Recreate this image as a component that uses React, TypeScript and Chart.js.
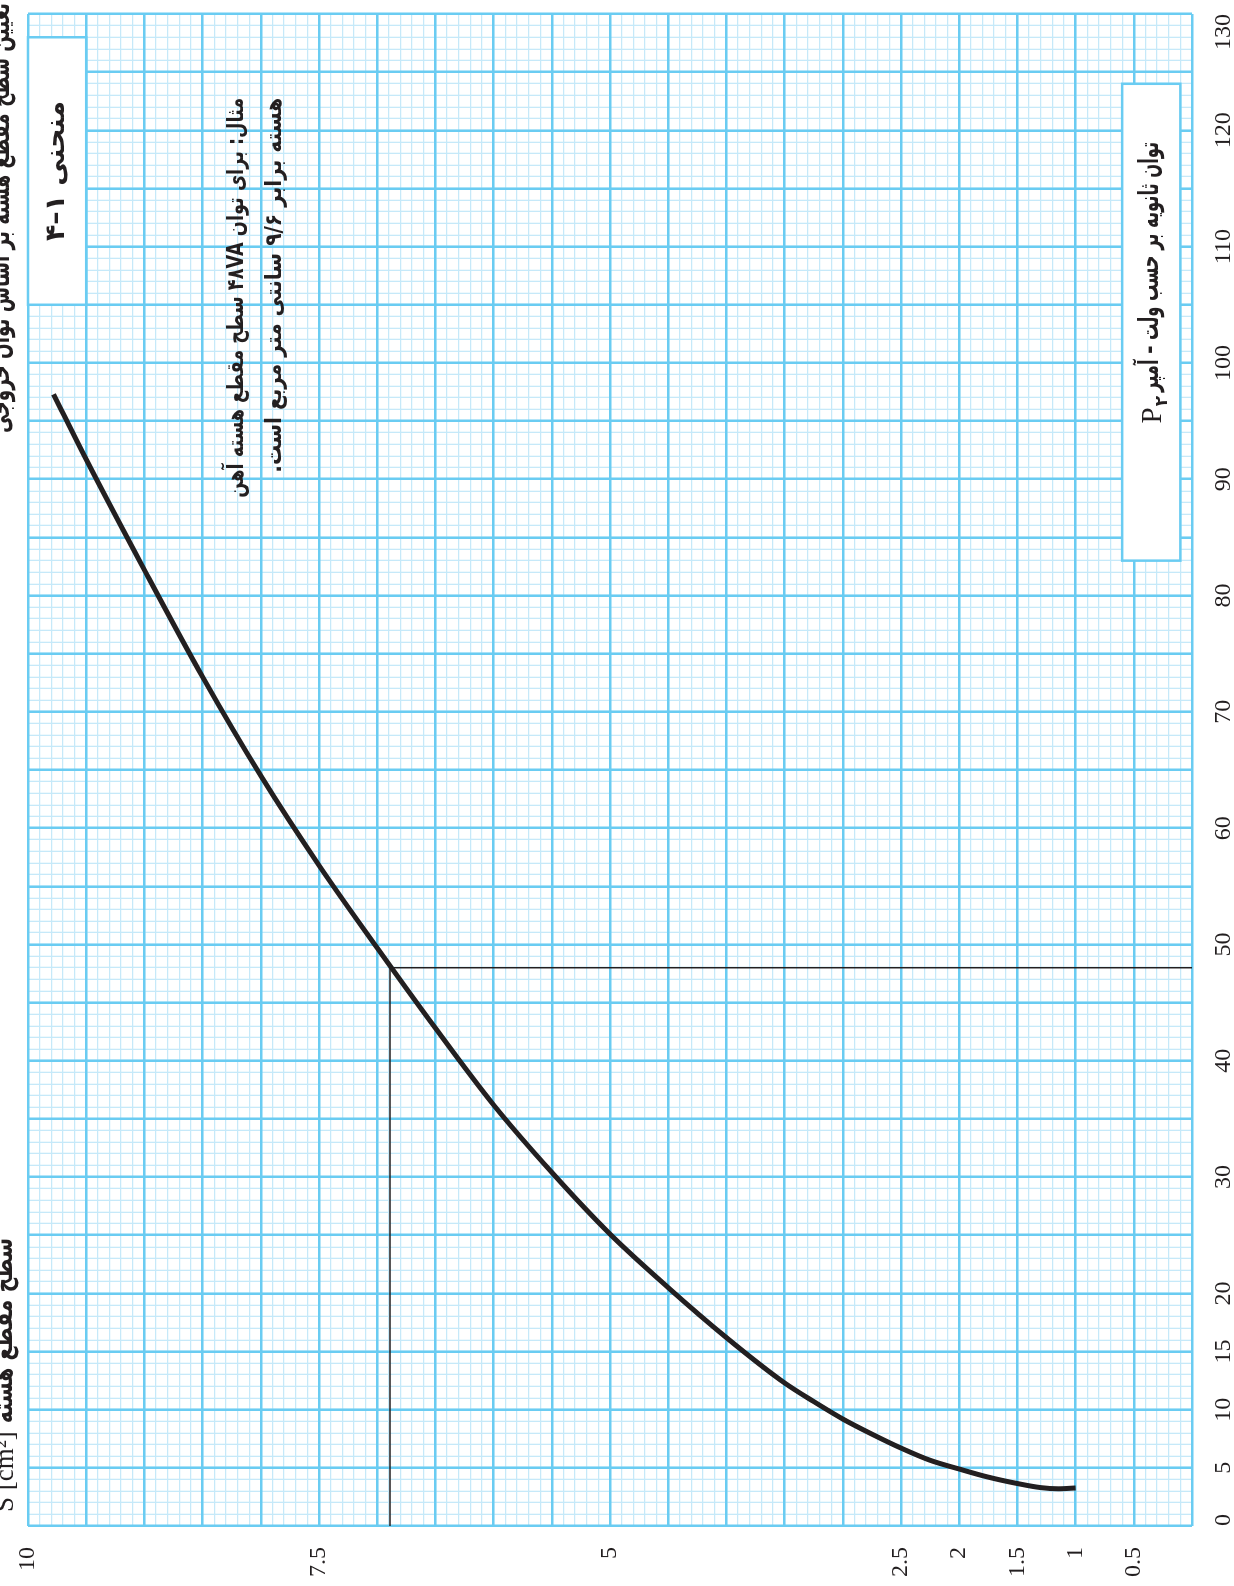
import React, { useEffect, useRef } from 'react';
import { Chart, registerables } from 'chart.js';

Chart.register(...registerables);

// ---------- data ----------
const P2_LABELS = [0, 5, 10, 15, 20, 30, 40, 50, 60, 70, 80, 90, 100, 110, 120, 130];
const S_LABELS = [0.5, 1, 1.5, 2, 2.5, 5, 7.5, 10];

// curve: secondary power P2 [VA] and core section S [cm²]
const CURVE_P2 = [3.27, 3.2, 3.3, 3.65, 4.2, 4.9, 5.65, 6.7, 7.9, 9.2, 10.7, 12.3, 16.2, 20.5, 25.1, 30.4, 36.2, 42.8, 49.7, 56.8, 64.5, 73.0, 82.2, 91.7, 97.3];
const CURVE_S = [1.0, 1.15, 1.3, 1.5, 1.75, 2.0, 2.25, 2.5, 2.75, 3.0, 3.25, 3.5, 4.0, 4.5, 5.0, 5.5, 6.0, 6.5, 7.0, 7.5, 8.0, 8.5, 9.0, 9.5, 9.78];

const EXAMPLE_P2 = 48;
const EXAMPLE_S = 6.89;

const TITLE = 'تعیین سطح مقطع هسته بر اساس توان خروجی';
const Y_TITLE_LATIN = 'S [cm²]';
const Y_TITLE_FA = 'سطح مقطع هسته';
const CURVE_NAME = 'منحنی ۱–۴';
const X_TITLE_FA = 'توان ثانویه بر حسب ولت – آمپر';
const X_TITLE_SYMBOL = 'P';
const X_TITLE_SUB = '۲';
const EXAMPLE_1 = 'مثال: برای توان ۴۸VA سطح مقطع هسته آهن';
const EXAMPLE_2 = 'هسته برابر ۹/۶ سانتی متر مربع است.';

// ---------- styles ----------
const MAJOR = '#6accf2';
const MINOR = '#c6e9f9';
const INK = '#231f20';
const FA_FONT = '"DejaVu Sans", sans-serif';
const SERIF = '"Liberation Serif", serif';

const hasLabel = (arr: number[], v: number) => arr.some((t) => Math.abs(t - v) < 1e-6);

// Persian text: given font size (height) and width; condensed to width if needed
function drawFa(
  ctx: CanvasRenderingContext2D,
  text: string,
  x: number,
  y: number,
  align: CanvasTextAlign,
  baseline: CanvasTextBaseline,
  size: number,
  width: number,
  weight = 'bold'
) {
  ctx.direction = 'rtl';
  ctx.font = `${weight} ${size}px ${FA_FONT}`;
  ctx.textAlign = align;
  ctx.textBaseline = baseline;
  ctx.fillStyle = INK;
  const natural = ctx.measureText(text).width;
  ctx.fillText(text, x, y, width);
  return Math.min(natural, width);
}

function drawBox(ctx: CanvasRenderingContext2D, x1: number, y1: number, x2: number, y2: number) {
  const l = Math.min(x1, x2), r = Math.max(x1, x2), t = Math.min(y1, y2), b = Math.max(y1, y2);
  ctx.fillStyle = '#ffffff';
  ctx.fillRect(l, t, r - l, b - t);
  ctx.strokeStyle = MAJOR;
  ctx.lineWidth = 2.5;
  ctx.strokeRect(l, t, r - l, b - t);
}

const annotations = {
  id: 'annotations',
  afterDraw(chart: any) {
    const ctx: CanvasRenderingContext2D = chart.ctx;
    const xs = chart.scales.x;
    const ys = chart.scales.y;
    const px = (v: number) => xs.getPixelForValue(v);
    const py = (v: number) => ys.getPixelForValue(v);
    ctx.save();

    // curve name box
    drawBox(ctx, px(105), py(10), px(128), py(9.5));
    drawFa(ctx, CURVE_NAME, px(116.5), py(9.75), 'center', 'middle', 27, 140);

    // axis title box
    drawBox(ctx, px(83), py(0.6), px(124), py(0.1));
    const yMid = py(0.35);
    const w = drawFa(ctx, X_TITLE_FA, px(119), yMid, 'right', 'middle', 27, 250);
    const left = px(119) - w;
    ctx.direction = 'ltr';
    ctx.font = `bold 17px ${FA_FONT}`;
    ctx.textAlign = 'right';
    ctx.textBaseline = 'alphabetic';
    ctx.fillText(X_TITLE_SUB, left - 4, yMid + 16);
    const subW = ctx.measureText(X_TITLE_SUB).width;
    ctx.font = `29px ${SERIF}`;
    ctx.fillText(X_TITLE_SYMBOL, left - 5 - subW, yMid + 10);

    // example text
    drawFa(ctx, EXAMPLE_1, px(122.8), py(8.2), 'right', 'middle', 23, 400);
    drawFa(ctx, EXAMPLE_2, px(122.8), py(7.88), 'right', 'middle', 23, 375);

    // page title (cut at the edge)
    drawFa(ctx, TITLE, 1583, 9, 'right', 'alphabetic', 27, 430);

    // y-axis title
    ctx.direction = 'ltr';
    ctx.font = `27px ${SERIF}`;
    ctx.textAlign = 'left';
    ctx.textBaseline = 'alphabetic';
    ctx.fillStyle = INK;
    ctx.fillText(Y_TITLE_LATIN, 74, 13);
    const lw = ctx.measureText(Y_TITLE_LATIN).width;
    drawFa(ctx, Y_TITLE_FA, 348, 12, 'right', 'alphabetic', 27, 348 - (74 + lw + 8));

    ctx.restore();
  },
};

export default function App() {
  const ref = useRef<HTMLCanvasElement>(null);

  useEffect(() => {
    if (!ref.current) return;
    const curve = CURVE_P2.map((p, i) => ({ x: p, y: CURVE_S[i] }));
    const cross = [
      { x: 0, y: EXAMPLE_S },
      { x: EXAMPLE_P2, y: EXAMPLE_S },
      { x: EXAMPLE_P2, y: 0 },
    ];
    const chart = new Chart(ref.current, {
      type: 'line',
      data: {
        datasets: [
          {
            data: cross,
            xAxisID: 'x',
            yAxisID: 'y',
            borderColor: INK,
            borderWidth: 1.5,
            pointRadius: 0,
            tension: 0,
            fill: false,
          },
          {
            data: curve,
            xAxisID: 'x',
            yAxisID: 'y',
            indexAxis: 'y',
            borderColor: INK,
            borderWidth: 5,
            pointRadius: 0,
            cubicInterpolationMode: 'monotone',
            fill: false,
            borderCapStyle: 'butt',
          },
        ],
      },
      options: {
        responsive: false,
        animation: false,
        events: [],
        layout: { padding: { top: 28, right: 14, left: 0, bottom: 0 } },
        plugins: { legend: { display: false }, tooltip: { enabled: false } },
        scales: {
          xMinor: {
            type: 'linear',
            position: 'bottom',
            min: 0,
            max: 130,
            ticks: { stepSize: 1, display: false, autoSkip: false },
            grid: { color: MINOR, lineWidth: 1.3, drawTicks: false, z: -2 },
            border: { display: false },
            afterFit: (s: any) => { s.height = 0; s.paddingLeft = 0; s.paddingRight = 0; },
          },
          yMinor: {
            type: 'linear',
            position: 'left',
            min: 0,
            max: 10,
            ticks: { stepSize: 0.1, display: false, autoSkip: false },
            grid: { color: MINOR, lineWidth: 1.3, drawTicks: false, z: -2 },
            border: { display: false },
            afterFit: (s: any) => { s.width = 0; s.paddingTop = 0; s.paddingBottom = 0; },
          },
          x: {
            type: 'linear',
            position: 'bottom',
            min: 0,
            max: 130,
            ticks: {
              stepSize: 5,
              autoSkip: false,
              maxRotation: 0,
              minRotation: 0,
              align: 'inner',
              padding: 17,
              color: INK,
              font: { family: SERIF, size: 24 },
              callback: (v: any) => (hasLabel(P2_LABELS, Number(v)) ? String(v) : ''),
            },
            grid: { color: MAJOR, lineWidth: 2.5, drawTicks: false, z: -1 },
            border: { display: false },
            afterFit: (s: any) => { s.height = 42; s.paddingLeft = 0; s.paddingRight = 0; },
          },
          y: {
            type: 'linear',
            position: 'left',
            min: 0,
            max: 10,
            ticks: {
              stepSize: 0.5,
              autoSkip: false,
              padding: 21,
              color: INK,
              font: { family: SERIF, size: 24 },
              callback: (v: any) => (hasLabel(S_LABELS, Number(v)) ? String(v) : ''),
            },
            grid: { color: MAJOR, lineWidth: 2.5, drawTicks: false, z: -1 },
            border: { display: false },
            afterFit: (s: any) => { s.width = 60; s.paddingTop = 0; s.paddingBottom = 0; },
          },
        },
      } as any,
      plugins: [annotations],
    });
    return () => chart.destroy();
  }, []);

  return (
    <div
      style={{
        position: 'absolute',
        left: 0,
        top: 0,
        width: 1234,
        height: 1586,
        overflow: 'hidden',
        background: '#ffffff',
      }}
    >
      <canvas
        ref={ref}
        width={1586}
        height={1234}
        style={{
          position: 'absolute',
          left: 0,
          top: 0,
          width: 1586,
          height: 1234,
          transformOrigin: '0 0',
          transform: 'translate(0px, 1586px) rotate(-90deg)',
        }}
      />
    </div>
  );
}
